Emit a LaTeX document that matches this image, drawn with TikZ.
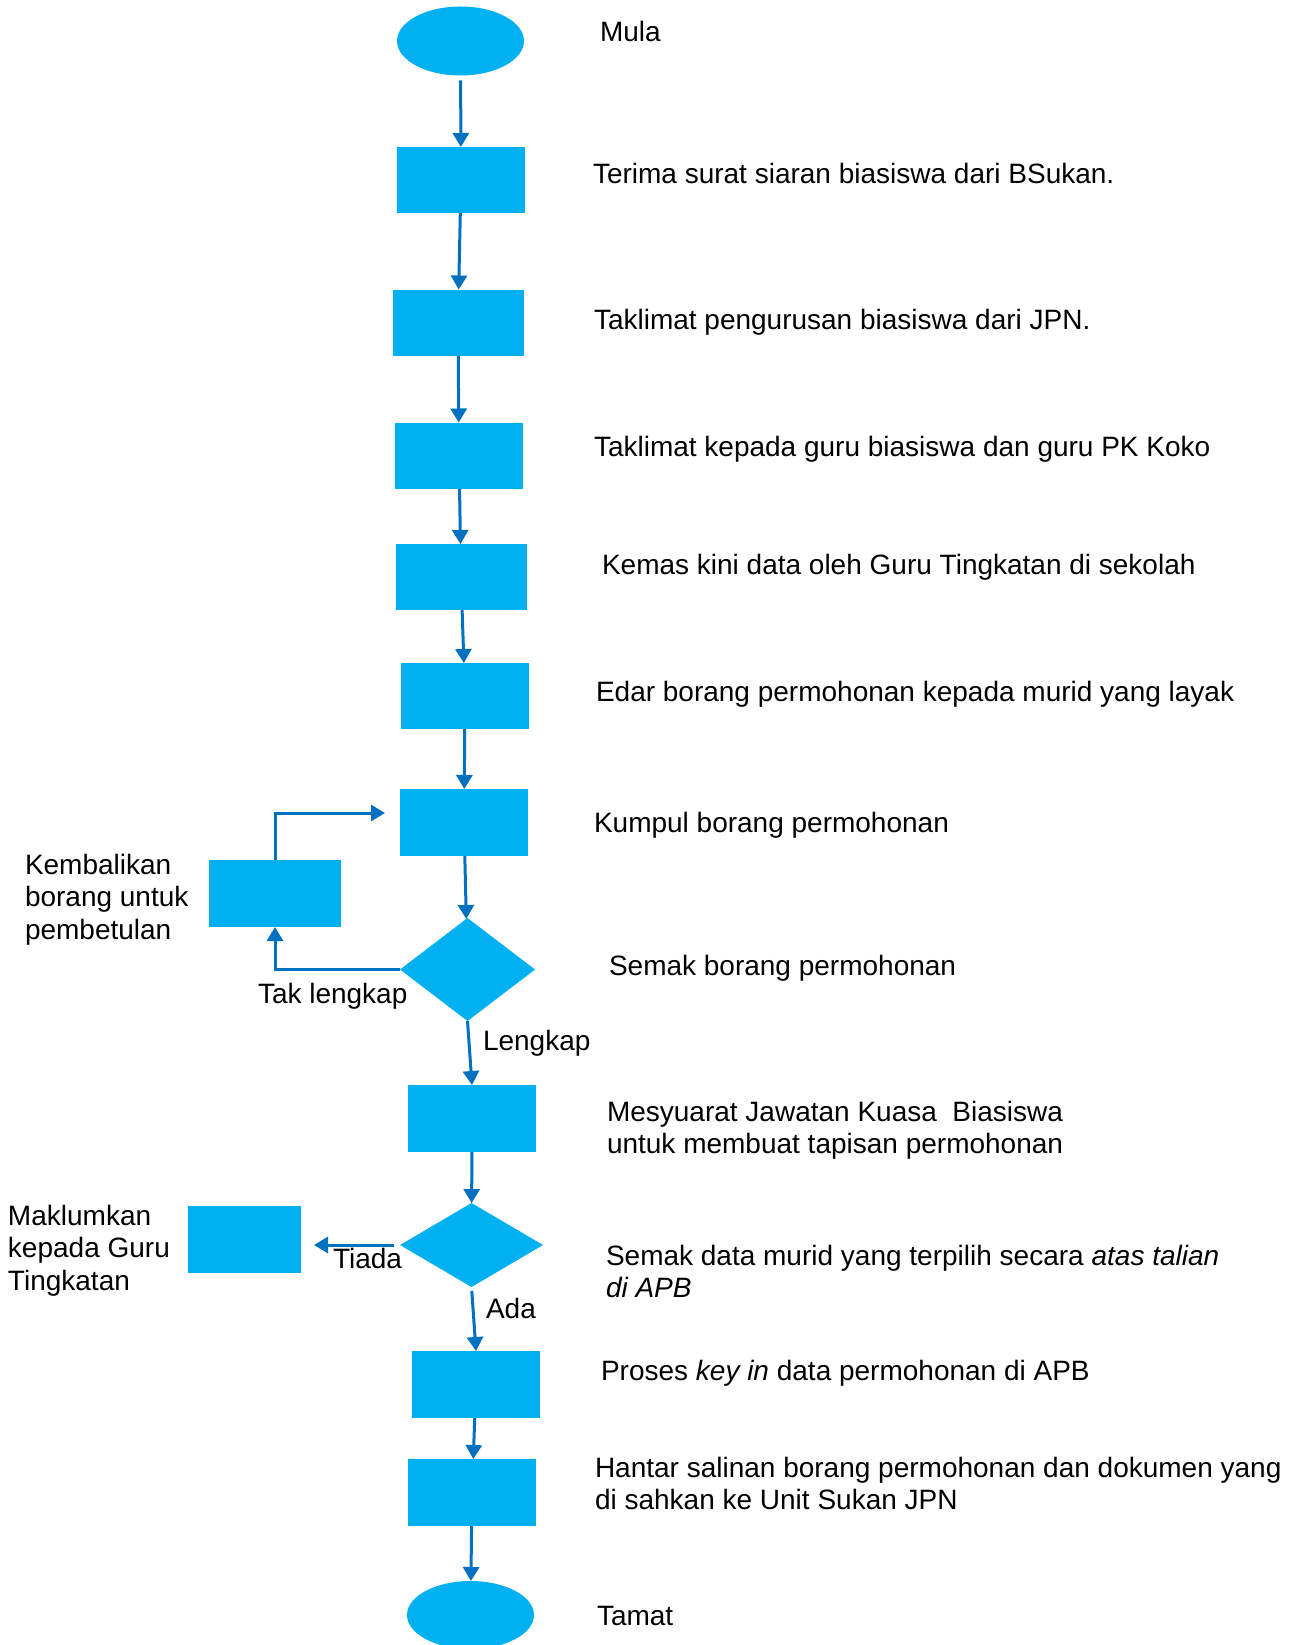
\documentclass[tikz,border=0pt]{standalone}
\usepackage{fontspec}
\setmainfont{Liberation Sans}
\usetikzlibrary{shapes.geometric,arrows.meta}
\definecolor{boxblue}{HTML}{00B0F0}
\definecolor{arrowblue}{HTML}{0070C0}
\newcommand{\mltext}[1]{\begin{tabular}[t]{@{}l@{}}#1\end{tabular}}
\begin{document}
\begin{tikzpicture}[x=1pt,y=-1pt,
  every node/.style={inner sep=0pt,outer sep=0pt},
  lbl/.style={anchor=base west,font=\fontsize{28}{32.5}\selectfont},
  stepbox/.style={rectangle,fill=boxblue,minimum width=128pt,minimum height=66pt},
  termbox/.style={ellipse,fill=boxblue,minimum width=127pt,minimum height=69pt},
  decbox/.style={diamond,fill=boxblue},
  arr/.style={draw=arrowblue,line width=3pt,-{Triangle[width=16pt,length=14pt]}}]
\useasboundingbox (0,0) rectangle (1293,1645);
% shapes
\node[termbox] (st) at (460.5,41) {};
\node[stepbox] (b1) at (461,180) {};
\node[stepbox,minimum width=131pt] (b2) at (458,322.5) {};
\node[stepbox] (b3) at (459,455.5) {};
\node[stepbox,minimum width=131pt] (b4) at (461,577) {};
\node[stepbox] (b5) at (465,696) {};
\node[stepbox,minimum height=67pt] (b6) at (464,822.5) {};
\node[stepbox,minimum width=132pt,minimum height=67pt] (kb) at (275,893.5) {};
\node[decbox,minimum width=135pt,minimum height=103pt] (d1) at (467.5,969.5) {};
\node[stepbox,minimum height=67pt] (b7) at (472,1118.5) {};
\node[decbox,minimum width=143pt,minimum height=84pt] (d2) at (471.5,1245) {};
\node[stepbox,minimum width=113pt,minimum height=67pt] (mk) at (244.5,1239.5) {};
\node[stepbox,minimum height=67pt] (b8) at (476,1384.5) {};
\node[stepbox,minimum height=67pt] (b9) at (472,1492.5) {};
\node[termbox,minimum height=68pt] (en) at (470.5,1615) {};
\coordinate (ret) at (385,813);
\coordinate (tiadatip) at (314,1245);
% connectors
\draw[arr,shorten <=5pt] (st) -- (b1);
\draw[arr] (b1) -- (b2);
\draw[arr] (b2) -- (b3);
\draw[arr] (b3) -- (b4);
\draw[arr] (b4) -- (b5);
\draw[arr] (b5) -- (b6);
\draw[arr] (b6) -- (d1);
\draw[arr] (d1.south) -- (b7.north);
\draw[arr] (b7) -- (d2);
\draw[arr,shorten <=4pt] (d2.south) -- (b8.north);
\draw[arr] (b8) -- (b9);
\draw[arr] (b9) -- (en);
\draw[arr] (d1.west) -| (kb.south);
\draw[arr] (kb.north) |- (ret);
\draw[arr,shorten <=6pt] (d2.west) -- (tiadatip);
% connector labels
\node[lbl] (ltak) at (258,1003) {Tak lengkap};
\node[lbl] (lleng) at (483,1050) {Lengkap};
\node[lbl] (ltiada) at (333,1268) {Tiada};
\node[lbl] (lada) at (486,1318) {Ada};
% side texts
\node[lbl] (tkb) at (25,874) {\mltext{Kembalikan\\borang untuk\\pembetulan}};
\node[lbl] (tmk) at (8,1225) {\mltext{Maklumkan\\kepada Guru\\Tingkatan}};
\node[lbl] (t0) at (600,42) {Mula};
\node[lbl] (t1) at (593,184) {Terima surat siaran biasiswa dari BSukan.};
\node[lbl] (t2) at (594,329) {Taklimat pengurusan biasiswa dari JPN.};
\node[lbl] (t3) at (594,456) {Taklimat kepada guru biasiswa dan guru PK Koko};
\node[lbl] (t4) at (602,574) {Kemas kini data oleh Guru Tingkatan di sekolah};
\node[lbl] (t5) at (596,701) {Edar borang permohonan kepada murid yang layak};
\node[lbl] (t6) at (594,832) {Kumpul borang permohonan};
\node[lbl] (t7) at (609,975) {Semak borang permohonan};
\node[lbl] (t8) at (607,1121) {\mltext{Mesyuarat Jawatan Kuasa \ Biasiswa\\untuk membuat tapisan permohonan}};
\node[lbl] (t9) at (606,1265) {\mltext{Semak data murid yang terpilih secara \textit{atas talian}\\\textit{di APB}}};
\node[lbl] (t10) at (601,1380) {Proses \textit{key in} data permohonan di APB};
\node[lbl] (t11) at (595,1477) {\mltext{Hantar salinan borang permohonan dan dokumen yang\\di sahkan ke Unit Sukan JPN}};
\node[lbl] (t12) at (597,1625) {Tamat};
\end{tikzpicture}
\end{document}
